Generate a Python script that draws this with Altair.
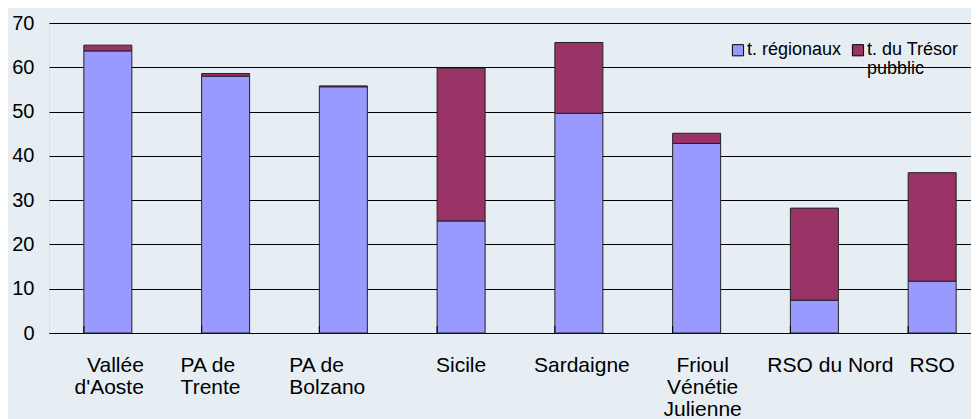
import altair as alt
import pandas as pd

categories = ["Vallée\nd'Aoste", "PA de\nTrente", "PA de\nBolzano", "Sicile",
              "Sardaigne", "Frioul\nVénétie\nJulienne", "RSO du Nord", "RSO"]
regionaux = [63.7, 58.0, 55.6, 25.3, 49.6, 42.8, 7.4, 11.7]
tresor = [1.3, 0.6, 0.2, 34.5, 16.0, 2.3, 20.8, 24.5]
series = ["t. régionaux", "t. du Trésor\npubblic"]
colors = ["#9999FF", "#993366"]
y_ticks = [0, 10, 20, 30, 40, 50, 60, 70]

rows = []
for c, a, b in zip(categories, regionaux, tresor):
    rows.append({"cat": c, "serie": series[0], "ord": 0, "val": a})
    rows.append({"cat": c, "serie": series[1], "ord": 1, "val": b})
df = pd.DataFrame(rows)
ticks_df = pd.DataFrame({"cat": categories})

FONT = "Liberation Sans"
H = 310

xscale = alt.Scale(domain=categories, range=[0, 942], paddingInner=0.5925, paddingOuter=0.296)

label_align = {
    "condition": [
        {"test": "indexof(datum.value, 'Aoste') >= 0", "value": "right"},
        {"test": "indexof(datum.value, 'PA de') >= 0", "value": "left"},
    ],
    "value": "center",
}
label_offset = {
    "condition": [
        {"test": "indexof(datum.value, 'Aoste') >= 0", "value": 36},
        {"test": "indexof(datum.value, 'Trente') >= 0", "value": -45},
        {"test": "indexof(datum.value, 'Bolzano') >= 0", "value": -54},
        {"test": "indexof(datum.value, 'Sardaigne') >= 0", "value": 3},
        {"test": "indexof(datum.value, 'Frioul') >= 0", "value": 6},
        {"test": "indexof(datum.value, 'Nord') >= 0", "value": 16},
    ],
    "value": 0,
}

bars = alt.Chart(df).mark_bar(stroke="#222222", strokeWidth=1).encode(
    x=alt.X("cat:N", sort=categories, scale=xscale,
            axis=alt.Axis(title=None, labelAngle=0, ticks=False, tickSize=0, domain=True,
                          domainColor="black", grid=False,
                          labelExpr="split(datum.label, '\\n')",
                          labelAlign=label_align, labelOffset=label_offset,
                          labelFont=FONT, labelFontSize=21, labelColor="black",
                          labelPadding=21, labelLineHeight=22, labelBaseline="top")),
    y=alt.Y("val:Q", stack="zero", scale=alt.Scale(domain=[0, 70], nice=False),
            axis=alt.Axis(title=None, values=y_ticks, ticks=False, tickSize=0, domain=False,
                          grid=True, gridColor="black", gridOpacity=1, gridWidth=1,
                          labelFont=FONT, labelFontSize=20, labelColor="black",
                          labelPadding=15)),
    color=alt.Color("serie:N", sort=series,
                    scale=alt.Scale(domain=series, range=colors),
                    legend=alt.Legend(title=None, orient="none", legendX=680, legendY=18,
                                      direction="horizontal", symbolType="square",
                                      symbolSize=125, symbolStrokeColor="black",
                                      symbolStrokeWidth=1, labelFont=FONT, labelFontSize=18,
                                      labelColor="black", labelOffset=0, columnPadding=7,
                                      labelExpr="length(split(datum.label, '\\n')) < 2 ? [datum.label, ''] : split(datum.label, '\\n')",
                                      labelLimit=300, padding=0)),
    order=alt.Order("ord:Q"),
)

tick_rules = alt.Chart(ticks_df).mark_rule(color="black", strokeWidth=1).encode(
    x=alt.X("cat:N", sort=categories, scale=xscale, bandPosition=0),
    y=alt.value(H - 7),
    y2=alt.value(H),
)

chart = alt.layer(bars, tick_rules).properties(
    width=922, height=H,
    autosize=alt.AutoSizeParams(type="none"),
    padding={"left": 41, "top": 15, "right": 0, "bottom": 94},
    background="#E6EEF4",
).configure_view(
    fill="white", stroke="black", strokeWidth=1.5
).configure(style={"guide-label": {"lineHeight": 18.5}})

chart.save("out.html", embed_options={"renderer": "svg", "actions": False})
